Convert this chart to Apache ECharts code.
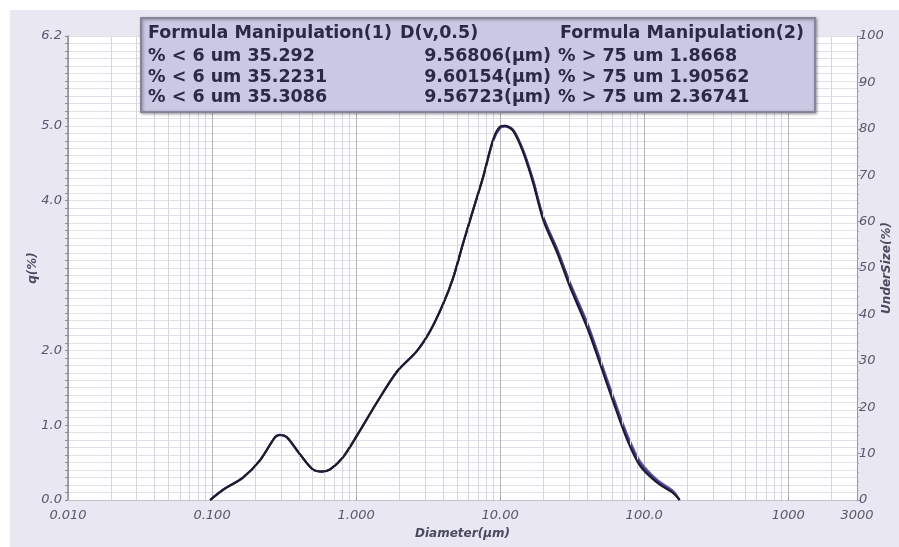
<!DOCTYPE html>
<html><head><meta charset="utf-8">
<script src="https://cdn.jsdelivr.net/npm/echarts@6/dist/echarts.min.js"></script>
<style>
html,body{margin:0;padding:0;background:#fff}
#c{width:899px;height:547px;background:#e9e7f2;box-shadow:inset 10px 10px 0 0 #fff}
</style>
</head><body><div id="c"></div>
<script>
// ---- data ----
const diameters = [0.097,0.12,0.164,0.215,0.274,0.296,0.33,0.408,0.50,0.58,0.66,0.81,1.02,1.40,1.93,2.64,3.27,4.02,4.72,5.53,6.50,7.62,8.94,10.0,10.8,12.3,14.4,16.9,19.9,24.9,30.6,40.2,49.5,60.9,75.9,93.3,123,159,176];
const qRun1 = [0,0.14,0.30,0.53,0.84,0.87,0.84,0.61,0.41,0.38,0.41,0.57,0.87,1.31,1.72,1.99,2.26,2.62,2.97,3.43,3.88,4.32,4.82,4.99,5.00,4.93,4.65,4.24,3.74,3.30,2.84,2.30,1.81,1.31,0.81,0.46,0.23,0.09,0];
const qRun2 = [0,0.14,0.30,0.53,0.84,0.87,0.84,0.61,0.41,0.38,0.41,0.57,0.87,1.31,1.72,1.99,2.26,2.62,2.97,3.43,3.88,4.32,4.81,4.98,5.00,4.95,4.68,4.28,3.78,3.34,2.88,2.34,1.85,1.35,0.85,0.49,0.25,0.10,0];
const qRun3 = [0,0.14,0.30,0.53,0.84,0.87,0.84,0.61,0.41,0.38,0.41,0.57,0.87,1.31,1.72,1.99,2.26,2.62,2.97,3.43,3.88,4.31,4.80,4.97,4.99,4.94,4.67,4.27,3.78,3.35,2.90,2.37,1.88,1.38,0.88,0.52,0.27,0.12,0];
const xTickValues = [0.01,0.1,1,10,100,1000,3000];
const xTickLabels = ['0.010','0.100','1.000','10.00','100.0','1000','3000'];
const leftTickLabels = [0,1,2,4,5,6.2];
const minorGridX = [0.02,0.03,0.04,0.05,0.06,0.07,0.08,0.09,0.2,0.3,0.4,0.5,0.6,0.7,0.8,0.9,2,3,4,5,6,7,8,9,20,30,40,50,60,70,80,90,200,300,400,500,600,700,800,900,2000];
const boxHeader = ['Formula Manipulation(1)','D(v,0.5)','Formula Manipulation(2)'];
const boxCol1 = ['% < 6 um 35.292','% < 6 um 35.2231','% < 6 um 35.3086'];
const boxCol2 = ['9.56806(μm)','9.60154(μm)','9.56723(μm)'];
const boxCol3 = ['% > 75 um 1.8668','% > 75 um 1.90562','% > 75 um 2.36741'];

const pairs = q => diameters.map((d,i)=>[d,q[i]]);
const labelFont = {fontFamily:'DejaVu Sans',fontStyle:'italic',fontSize:13,color:'#58586c'};
const nameFont = {fontFamily:'DejaVu Sans',fontStyle:'italic',fontWeight:'bold',fontSize:12,color:'#4a4a60'};

const boxFont = 'bold 17.5px "DejaVu Sans"';
const boxFill = '#2a2a48';
const rowsY = [33,56,77,97];
const txt = (t,x,y,align)=>({type:'text',z:101,x:x,y:y,style:{text:t,font:boxFont,fill:boxFill,align:align||'left',verticalAlign:'middle'}});
const boxChildren = [{type:'rect',z:100,shape:{x:141,y:18,width:674,height:94},style:{fill:'#cac8e2',stroke:'#86859d',lineWidth:2,shadowBlur:3,shadowColor:'rgba(0,0,0,0.35)',shadowOffsetX:1,shadowOffsetY:1}}];
boxChildren.push(txt(boxHeader[0],148,rowsY[0]));
boxChildren.push(txt(boxHeader[1],400,rowsY[0]));
boxChildren.push(txt(boxHeader[2],560,rowsY[0]));
for(let i=0;i<3;i++){
  boxChildren.push(txt(boxCol1[i],148,rowsY[i+1]));
  boxChildren.push(txt(boxCol2[i],551,rowsY[i+1],'right'));
  boxChildren.push(txt(boxCol3[i],558,rowsY[i+1]));
}

const chart = echarts.init(document.getElementById('c'));
chart.setOption({
  backgroundColor:'transparent',
  animation:false,
  grid:{left:68,right:42,top:36,bottom:47,show:true,backgroundColor:'#ffffff',borderWidth:0,outerBoundsMode:'none',containLabel:false},
  xAxis:{type:'log',logBase:10,min:0.01,max:3000,
    name:'Diameter(μm)',nameLocation:'middle',nameGap:28,nameMoveOverlap:false,nameTextStyle:nameFont,
    axisLine:{show:true,lineStyle:{color:'#c4c4ce',width:1}},
    axisTick:{show:true,inside:true,length:3,lineStyle:{color:'#999'}},
    axisLabel:Object.assign({margin:9,formatter:v=>{
      for(let i=0;i<xTickValues.length;i++){ if(Math.abs(Math.log10(v)-Math.log10(xTickValues[i]))<1e-6) return xTickLabels[i]; }
      return '';
    }},labelFont),
    splitLine:{show:true,lineStyle:{color:'#b4b4bf',width:1}}
  },
  yAxis:[
    {type:'value',min:0,max:6.2,interval:0.1,position:'left',
      name:'q(%)',nameLocation:'middle',nameGap:29,nameMoveOverlap:false,nameRotate:90,nameTextStyle:nameFont,
      axisLine:{show:true,lineStyle:{color:'#8e8e9a',width:1.5}},
      axisTick:{show:true,length:3,lineStyle:{color:'#8e8e9a'}},
      axisLabel:Object.assign({interval:0,margin:6,formatter:v=>{
        const r=Math.round(v*10)/10; return leftTickLabels.indexOf(r)>=0 ? r.toFixed(1) : '';
      }},labelFont),
      splitLine:{show:true,lineStyle:{color:'#e0e0e8',width:1}}
    },
    {type:'value',min:0,max:100,interval:10,position:'right',
      name:'UnderSize(%)',nameLocation:'middle',nameGap:24,nameMoveOverlap:false,nameRotate:90,nameTextStyle:nameFont,
      axisLine:{show:true,lineStyle:{color:'#9a9aa6',width:1}},
      axisTick:{show:true,length:4,lineStyle:{color:'#9a9aa6'}},
      minorTick:{show:true,splitNumber:5,length:2,lineStyle:{color:'#aaaab4'}},
      axisLabel:Object.assign({margin:2},labelFont),
      splitLine:{show:false}
    }
  ],
  series:[
    {type:'line',name:'grid',data:[],z:1,silent:true,
      markLine:{silent:true,symbol:'none',label:{show:false},animation:false,
        lineStyle:{type:'solid',color:'#d6d6e0',width:1},
        data:minorGridX.map(v=>({xAxis:v}))}},
    {type:'line',name:'run3',data:pairs(qRun3),smooth:0.3,showSymbol:false,lineStyle:{color:'#6a5aa8',width:2.2},z:3},
    {type:'line',name:'run2',data:pairs(qRun2),smooth:0.3,showSymbol:false,lineStyle:{color:'#3a3a8e',width:2.2},z:4},
    {type:'line',name:'run1',data:pairs(qRun1),smooth:0.3,showSymbol:false,lineStyle:{color:'#1c1c22',width:2},z:5}
  ],
  graphic:[{type:'group',x:0,y:0,z:100,children:boxChildren}]
});
</script>
</body></html>
